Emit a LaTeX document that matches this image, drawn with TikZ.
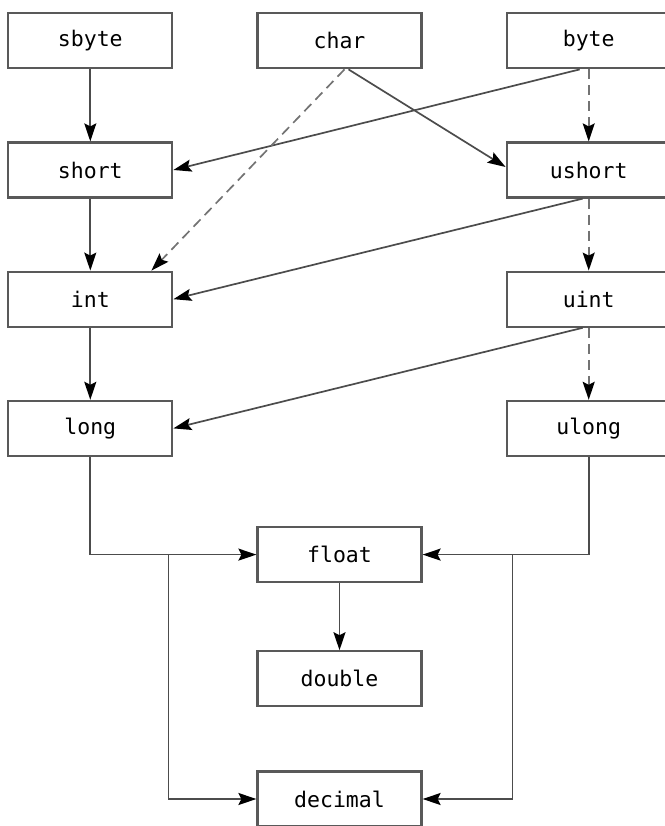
\documentclass[tikz,border=0pt]{standalone}
\usepackage{fontspec}
\setmonofont{DejaVu Sans Mono}
\usetikzlibrary{arrows.meta,calc}
\begin{document}
\begin{tikzpicture}[
   font=\ttfamily\fontsize{21.5}{25}\selectfont,
   every matrix/.style={ampersand replacement=\&,column sep=83pt,row sep=72pt,inner sep=0pt},
   type/.style={draw=black!65,line width=2.2pt,minimum width=164pt,minimum height=55pt,inner sep=0pt},
   to/.style={-{Stealth[length=18pt,width=12pt,inset=3pt,color=black]},line width=1.7pt,draw=black!70},
   dashto/.style={to,draw=black!55,dash pattern=on 10pt off 6pt}]
\useasboundingbox (0,0) rectangle (664pt,-826pt);
\matrix[anchor=north west] at (7pt,-12pt) {
\node[type] (sbyte) {sbyte};\&\node[type] (char) {char};\&\node[type] (byte) {byte};\\
\node[type] (short) {short};\&\&\node[type] (ushort) {ushort};\\
\node[type] (int) {int};\&\&\node[type] (uint) {uint};\\
\node[type] (long) {long};\&\&\node[type] (ulong) {ulong};\\[-3pt]
\&\node[type] (float) {float};\&\\[-5pt]
\&\node[type] (double) {double};\&\\[-9pt]
\&\node[type] (decimal) {decimal};\&\\
};
% signed column and the crossings
\draw[to] (sbyte) -- (short);
\draw[to] ([xshift=-9pt]byte.south) -- (short.east);
\draw[dashto] (byte) -- (ushort);
\draw[to] ([xshift=9pt]char.south) -- ([yshift=3pt]ushort.west);
\draw[dashto] ([xshift=5pt]char.south) -- ([xshift=-22pt]int.north east);
\draw[to] (short) -- (int);
\draw[to] ([xshift=-6pt]ushort.south) -- (int.east);
\draw[dashto] (ushort) -- (uint);
\draw[to] (int) -- (long);
\draw[to] ([xshift=-6pt]uint.south) -- (long.east);
\draw[dashto] (uint) -- (ulong);
% into float and decimal
\draw[to] (long) |- (float);
\draw[to] (ulong) |- (float);
\coordinate (lsplit) at ($(long.east |- float.west)+(-5pt,0)$);
\coordinate (rsplit) at ($(ulong.west |- float.east)+(7pt,0)$);
\draw[to] (lsplit) |- (decimal);
\draw[to] (rsplit) |- (decimal);
\draw[to] (float) -- (double);
\end{tikzpicture}
\end{document}
